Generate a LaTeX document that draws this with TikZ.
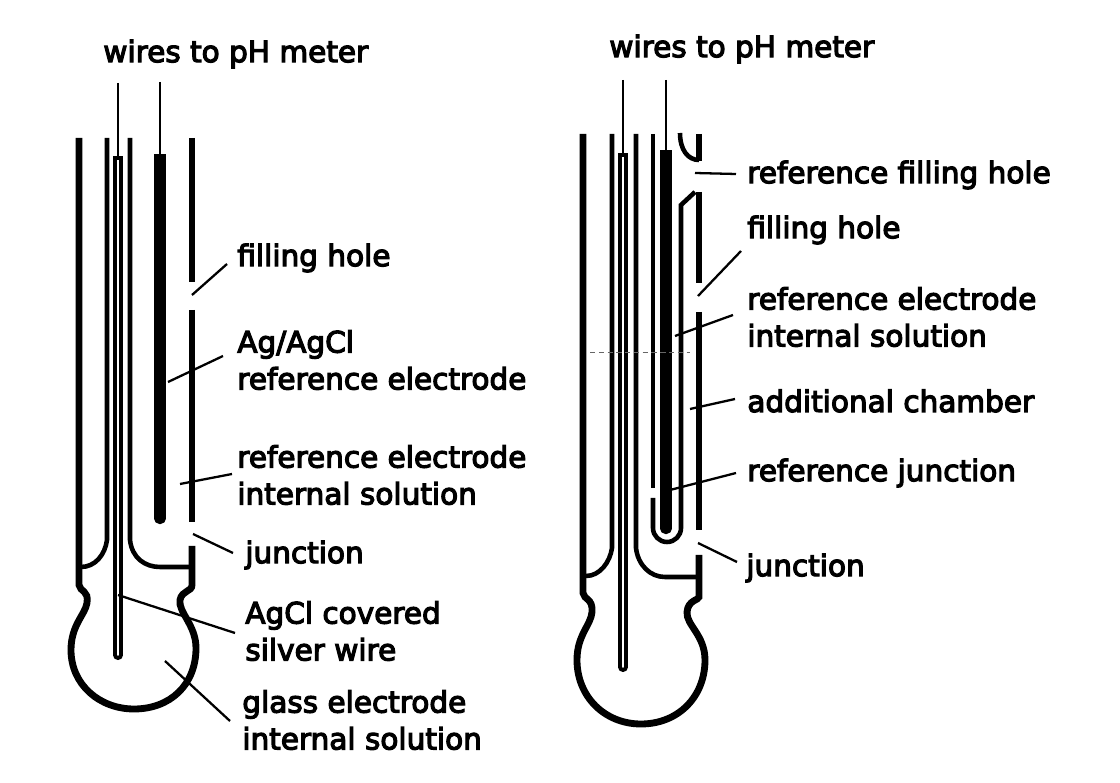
\documentclass[tikz,border=0pt]{standalone}
\usepackage{fontspec}
\setmainfont[FakeBold=4]{DejaVu Sans}

\tikzset{
  glass/.style={line width=3.9pt},
  tube/.style={line width=2.6pt},
  wiretube/.style={line width=2.2pt},
  wire/.style={line width=1.7pt},
  leader/.style={line width=1.3pt},
  faint/.style={line width=.4pt,densely dashed,black!60},
  lbl/.style={anchor=west,inner sep=0pt,align=left,font=\fontsize{16.8pt}{21pt}\selectfont},
}

\begin{document}
\begin{tikzpicture}[x=.02cm,y=-.02cm]
      \useasboundingbox (0,0) rectangle (1120,783);
      % left electrode
      \draw[glass] (79,138) -- (79,585) .. controls (80,592) and (89,590) .. (87,603) .. controls (85,615) and (71,625) .. (71,650) .. controls (71,685) and (100,709) .. (134,709) .. controls (170,709) and (196,685) .. (196,648) .. controls (196,625) and (178,612) .. (180,600) .. controls (182,590) and (192,592) .. (192,585) -- (192,546);
      \draw[glass] (192,138) -- (192,282);
      \draw[glass] (192,310) -- (192,522);
      \draw[tube] (107,138) -- (107,540) .. controls (105,555) and (95,567) .. (81,567);
      \draw[tube] (130,138) -- (130,540) .. controls (132,558) and (145,567) .. (160,567) -- (192,567);
      \draw[wiretube] (115,158) -- (115,655) arc (180:0:3) -- (121,158) -- cycle;
      \draw[line width=3.4pt,fill] (157,157) -- (157,518) arc (180:0:3) -- (163,157) -- cycle;
      \draw[wire] (118,83) -- (118,158);
      \draw[wire] (160,82) -- (160,157);
      % right electrode
      \draw[glass] (583,134) -- (583,593) .. controls (584,600) and (593,598) .. (592,612) .. controls (591,625) and (577,635) .. (577,660) .. controls (577,697) and (605,724) .. (641,724) .. controls (678,724) and (705,697) .. (705,660) .. controls (705,635) and (686,625) .. (687,612) .. controls (688,600) and (699,600) .. (699,597) -- (699,555);
      \draw[glass] (699,134) -- (699,161);
      \draw[glass] (699,192) -- (699,283);
      \draw[glass] (699,312) -- (699,530);
      \draw[tube] (612,134) -- (612,548) .. controls (610,562) and (600,576) .. (586,576);
      \draw[tube] (636,134) -- (636,548) .. controls (638,565) and (650,577) .. (665,577) -- (699,577);
      \draw[wiretube] (620,155) -- (620,667) arc (180:0:3) -- (626,155) -- cycle;
      \draw[tube] (653,134) -- (653,488);
      \draw[tube] (653,498) -- (653,528) arc (180:0:14) -- (681,205) -- (695,192);
      \draw[tube] (680,133) .. controls (680,150) and (688,160) .. (699,160);
      \draw[line width=3.4pt,fill] (663,153) -- (663,528) arc (180:0:3) -- (669,153) -- cycle;
      \draw[wire] (623,80) -- (623,155);
      \draw[wire] (666,80) -- (666,153);
      % texts
      \node[lbl] (wiresa) at (103,54) {wires to pH meter};
      \node[lbl] (fhole) at (237,258) {filling hole};
      \node[lbl] (agref) at (237,360) {Ag/AgCl\\reference electrode};
      \node[lbl] (refsol) at (237,475) {reference electrode\\internal solution};
      \node[lbl] (jct) at (245,555) {junction};
      \node[lbl] (agcl) at (245,631) {AgCl covered\\silver wire};
      \node[lbl] (gsol) at (242,720) {glass electrode\\internal solution};
      \node[lbl] (wiresb) at (609,49) {wires to pH meter};
      \node[lbl] (rhole) at (747,175) {reference filling hole};
      \node[lbl] (fholeb) at (747,230) {filling hole};
      \node[lbl] (refsolb) at (747,317) {reference electrode\\internal solution};
      \node[lbl] (chamb) at (747,401) {additional chamber};
      \node[lbl] (rjct) at (747,473) {reference junction};
      \node[lbl] (jctb) at (746,568) {junction};
      % leaders
      \coordinate (c1) at (192,295);
      \coordinate (c1b) at (227,264);
      \coordinate (c2) at (168,382);
      \coordinate (c2b) at (223,356);
      \coordinate (c3) at (180,484);
      \coordinate (c3b) at (232,474);
      \coordinate (c4) at (193,534);
      \coordinate (c4b) at (233,553);
      \coordinate (c5) at (118,595);
      \coordinate (c5b) at (235,633);
      \coordinate (c6) at (165,661);
      \coordinate (c6b) at (230,721);
      \coordinate (c7) at (695,173);
      \coordinate (c7b) at (736,174);
      \coordinate (c8) at (698,296);
      \coordinate (c8b) at (741,251);
      \coordinate (c9) at (675,336);
      \coordinate (c9b) at (733,315);
      \coordinate (c10) at (690,409);
      \coordinate (c10b) at (735,399);
      \coordinate (c11) at (670,490);
      \coordinate (c11b) at (736,473);
      \coordinate (c12) at (698,543);
      \coordinate (c12b) at (737,562);
      \coordinate (c13) at (590,352);
      \coordinate (c14) at (690,352);
      \draw[leader] (c1) -- (c1b);
      \draw[leader] (c2) -- (c2b);
      \draw[leader] (c3) -- (c3b);
      \draw[leader] (c4) -- (c4b);
      \draw[leader] (c5) -- (c5b);
      \draw[leader] (c6) -- (c6b);
      \draw[leader] (c7) -- (c7b);
      \draw[leader] (c8) -- (c8b);
      \draw[leader] (c9) -- (c9b);
      \draw[leader] (c10) -- (c10b);
      \draw[leader] (c11) -- (c11b);
      \draw[leader] (c12) -- (c12b);
      \draw[faint] (c13) -- (c14);
    \end{tikzpicture}
\end{document}
